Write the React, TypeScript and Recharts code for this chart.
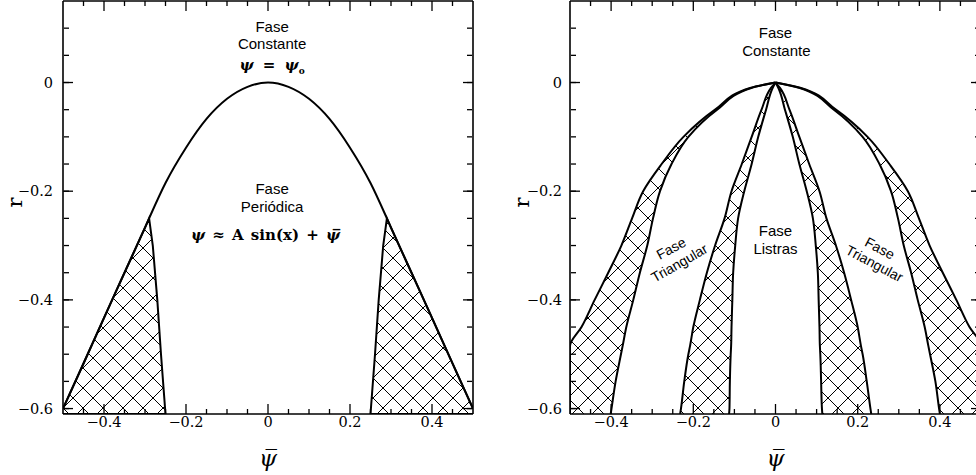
import React from "react"
import { ComposedChart, Area, Line, XAxis, YAxis, ReferenceDot } from "recharts"

const SANS = '"Liberation Sans", Arial, sans-serif'
const SERIF = '"DejaVu Serif", serif'
const INK = "#000"

const R_MIN = -0.61
const R_MAX = 0.15
const PSI_DOMAIN = [-0.5, 0.5]

// tick positions (shared by both panels)
const xMajor = [-0.4, -0.2, 0, 0.2, 0.4]
const xMinor = [-0.45, -0.4, -0.35, -0.3, -0.25, -0.2, -0.15, -0.1, -0.05, 0, 0.05, 0.1, 0.15, 0.2, 0.25, 0.3, 0.35, 0.4, 0.45]
const yMajor = [-0.6, -0.4, -0.2, 0]
const yMinor = [-0.6, -0.55, -0.5, -0.45, -0.4, -0.35, -0.3, -0.25, -0.2, -0.15, -0.1, -0.05, 0, 0.05, 0.1]

// left panel: border of the constant phase, r(psi)
const boundaryX = [-0.5, -0.45, -0.4, -0.35, -0.3, -0.29, -0.25, -0.2, -0.15, -0.1, -0.05, 0, 0.05, 0.1, 0.15, 0.2, 0.25, 0.29, 0.3, 0.35, 0.4, 0.45, 0.5]
const boundaryR = [-0.6, -0.517, -0.433, -0.35, -0.267, -0.25, -0.185, -0.12, -0.067, -0.03, -0.008, 0, -0.008, -0.03, -0.067, -0.12, -0.185, -0.25, -0.267, -0.35, -0.433, -0.517, -0.6]

// left panel: hatched regions, upper edge (lower edge is the frame)
const hatchLeftX = [-0.5, -0.45, -0.4, -0.35, -0.3, -0.29, -0.281, -0.27, -0.261, -0.25]
const hatchLeftTop = [-0.6, -0.517, -0.433, -0.35, -0.267, -0.25, -0.3, -0.4, -0.5, -0.61]
const hatchRightX = [0.25, 0.261, 0.27, 0.281, 0.29, 0.3, 0.35, 0.4, 0.45, 0.5]
const hatchRightTop = [-0.61, -0.5, -0.4, -0.3, -0.25, -0.267, -0.35, -0.433, -0.517, -0.6]

// right panel: band edges as psi(r)
const rGrid = [0, -0.01, -0.05, -0.1, -0.15, -0.2, -0.25, -0.3, -0.35, -0.4, -0.45, -0.485, -0.5, -0.55, -0.6, -0.61]
const outerLeft = [0, -0.062, -0.147, -0.224, -0.277, -0.322, -0.349, -0.375, -0.407, -0.44, -0.472, -0.5, -0.5, -0.5, -0.5, -0.5]
const innerLeft = [0, -0.059, -0.142, -0.212, -0.253, -0.281, -0.298, -0.312, -0.33, -0.346, -0.363, -0.372, -0.376, -0.389, -0.399, -0.401]
const stripeLeftOut = [0, -0.011, -0.034, -0.058, -0.082, -0.107, -0.124, -0.147, -0.167, -0.184, -0.2, -0.208, -0.212, -0.222, -0.23, -0.232]
const stripeLeftIn = [0, -0.007, -0.023, -0.042, -0.058, -0.076, -0.091, -0.098, -0.103, -0.105, -0.107, -0.108, -0.109, -0.111, -0.112, -0.113]
const stripeRightIn = [0, 0.007, 0.023, 0.042, 0.058, 0.076, 0.091, 0.098, 0.103, 0.105, 0.107, 0.108, 0.109, 0.111, 0.113, 0.114]
const stripeRightOut = [0, 0.011, 0.034, 0.058, 0.082, 0.107, 0.124, 0.147, 0.167, 0.184, 0.2, 0.208, 0.212, 0.222, 0.231, 0.233]
const innerRight = [0, 0.059, 0.142, 0.212, 0.253, 0.281, 0.298, 0.312, 0.33, 0.346, 0.363, 0.372, 0.376, 0.389, 0.398, 0.4]
const outerRight = [0, 0.062, 0.147, 0.224, 0.277, 0.322, 0.349, 0.375, 0.407, 0.44, 0.472, 0.5, 0.5, 0.5, 0.5, 0.5]

// annotations
const leftNotes = [
    { text: "Fase", x: 0.01, r: 0.102 },
    { text: "Constante", x: 0.01, r: 0.071 },
    { text: "Fase", x: 0.01, r: -0.196 },
    { text: "Periódica", x: 0.01, r: -0.229 },
]
const rightNotes = [
    { text: "Fase", x: 0, r: 0.091, angle: 0, size: 15 },
    { text: "Constante", x: 0.002, r: 0.058, angle: 0, size: 15 },
    { text: "Fase", x: 0, r: -0.273, angle: 0, size: 15 },
    { text: "Listras", x: 0, r: -0.305, angle: 0, size: 15 },
    { text: "Fase", x: -0.254, r: -0.305, angle: -28, size: 14 },
    { text: "Triangular", x: -0.234, r: -0.332, angle: -30, size: 14 },
    { text: "Fase", x: 0.254, r: -0.305, angle: 28, size: 14 },
    { text: "Triangular", x: 0.241, r: -0.333, angle: 28, size: 14 },
]

function buildLeftRows() {
    const rows = new Map<number, any>()
    const put = (x: number, key: string, v: any) => {
        if (!rows.has(x)) rows.set(x, { x })
        rows.get(x)[key] = v
    }
    boundaryX.forEach((x, i) => put(x, "boundary", boundaryR[i]))
    hatchLeftX.forEach((x, i) => put(x, "hatchL", [R_MIN, hatchLeftTop[i]]))
    hatchRightX.forEach((x, i) => put(x, "hatchR", [R_MIN, hatchRightTop[i]]))
    return [...rows.values()].sort((a, b) => a.x - b.x)
}

const leftRows = buildLeftRows()
const rightRows = rGrid.map((r, i) => ({
    r,
    bandL: [outerLeft[i], innerLeft[i]],
    stripeL: [stripeLeftOut[i], stripeLeftIn[i]],
    stripeR: [stripeRightIn[i], stripeRightOut[i]],
    bandR: [innerRight[i], outerRight[i]],
}))
// rows for the frame overlay of the right panel
const frameRows = xMinor.map((x) => ({ x }))

const fmt = (v: number) => (v === 0 ? "0" : String(v).replace("-", "\u2212"))
const tickLineStyle = { stroke: INK, strokeWidth: 1.3 }
const frame = { stroke: INK, strokeWidth: 1.6 }
const tickText = { fill: INK, fontSize: 14.5, fontFamily: SERIF }
const psiBar = "\u03C8\u0305"
const blankTick = () => <g />

const xLabel = { value: psiBar, position: "insideBottom", offset: 9, fill: INK, fontSize: 23, fontStyle: "italic", fontFamily: SERIF }
const yLabel = (offset: number) => ({ value: "r", angle: -90, position: "insideLeft", offset, fill: INK, fontSize: 21, fontFamily: SERIF })

// frame lines on all four sides + inward r ticks, drawn with mirrored axes (they take no room)
function frameAxes() {
    const xs = { dataKey: "x", type: "number" as const, domain: PSI_DOMAIN, allowDataOverflow: true, interval: 0, tick: blankTick, tickLine: false, mirror: true, height: 1, ticks: xMajor }
    const ys = { type: "number" as const, domain: [R_MIN, R_MAX], allowDataOverflow: true, interval: 0, tick: blankTick, mirror: true, width: 1, tickLine: tickLineStyle }
    return [
        <XAxis key="bM" xAxisId="bM" orientation="bottom" axisLine={frame} {...xs} />,
        <XAxis key="tM" xAxisId="tM" orientation="top" axisLine={frame} {...xs} />,
        <YAxis key="lM" yAxisId="lM" orientation="left" ticks={yMajor} tickSize={10} axisLine={frame} {...ys} />,
        <YAxis key="lm" yAxisId="lm" orientation="left" ticks={yMinor} tickSize={5} axisLine={false} {...ys} />,
        <YAxis key="rM" yAxisId="rM" orientation="right" ticks={yMajor} tickSize={10} axisLine={frame} {...ys} />,
        <YAxis key="rm" yAxisId="rm" orientation="right" ticks={yMinor} tickSize={5} axisLine={false} {...ys} />,
    ]
}

// inward psi tick mark anchored at the point the chart scales give for (psi, edge)
const tickMark = (dir: number, len: number) => (p: any) => (
    <line x1={p.cx} y1={p.cy} x2={p.cx} y2={p.cy + dir * len} stroke={INK} strokeWidth={1.3} />
)

function psiTicks() {
    return xMinor.flatMap((v) => {
        const len = xMajor.includes(v) ? 10 : 5
        return [
            <ReferenceDot key={`b${v}`} xAxisId="b" yAxisId="l" x={v} y={R_MIN} r={0} ifOverflow="visible" shape={tickMark(-1, len)} />,
            <ReferenceDot key={`t${v}`} xAxisId="b" yAxisId="l" x={v} y={R_MAX} r={0} ifOverflow="visible" shape={tickMark(1, len)} />,
        ]
    })
}

function EqConst(props: any) {
    const vb = props.viewBox || {}
    return (
        <text x={vb.x} y={vb.y + 5} textAnchor="middle" fontFamily={SERIF} fontSize={15} fontWeight="bold" fill={INK} style={{ wordSpacing: 4 }}>
            <tspan fontStyle="italic">ψ</tspan> = <tspan fontStyle="italic">ψ</tspan>
            <tspan fontSize={9} dy={4}>o</tspan>
        </text>
    )
}

function EqPeriodic(props: any) {
    const vb = props.viewBox || {}
    return (
        <text x={vb.x} y={vb.y + 5} textAnchor="middle" fontFamily={SERIF} fontSize={15} fontWeight="bold" fill={INK} style={{ wordSpacing: 2 }}>
            <tspan fontStyle="italic">ψ</tspan> ≈ A sin(x) + <tspan fontStyle="italic">{psiBar}</tspan>
        </text>
    )
}

function Hatch({ id, dx, dy }: { id: string; dx: number; dy: number }) {
    return (
        <defs>
            <pattern id={id} patternUnits="userSpaceOnUse" width={20} height={20} patternTransform={`translate(${dx},${dy})`}>
                <path d="M0,0L20,20M20,0L0,20" stroke={INK} strokeWidth={1} />
            </pattern>
        </defs>
    )
}

function LeftPanel() {
    return (
        <ComposedChart width={488} height={475} data={leftRows} margin={{ top: 1, right: 15, bottom: 0, left: 0 }}>
            <Hatch id="hatchA" dx={3} dy={8} />
            <XAxis xAxisId="b" dataKey="x" type="number" domain={PSI_DOMAIN} allowDataOverflow ticks={xMajor} interval={0} tickSize={0} tickMargin={3} tickLine={false} axisLine={false} tick={tickText} tickFormatter={fmt} height={61} label={xLabel} />
            <YAxis yAxisId="l" type="number" domain={[R_MIN, R_MAX]} allowDataOverflow ticks={yMajor} interval={0} tickSize={0} tickMargin={10} tickLine={false} axisLine={false} tick={tickText} tickFormatter={fmt} width={63} label={yLabel(15)} />
            {frameAxes()}

            <Area xAxisId="b" yAxisId="l" dataKey="hatchL" type="linear" fill="url(#hatchA)" fillOpacity={1} stroke={INK} strokeWidth={2} dot={false} activeDot={false} isAnimationActive={false} />
            <Area xAxisId="b" yAxisId="l" dataKey="hatchR" type="linear" fill="url(#hatchA)" fillOpacity={1} stroke={INK} strokeWidth={2} dot={false} activeDot={false} isAnimationActive={false} />
            <Line xAxisId="b" yAxisId="l" dataKey="boundary" type="monotone" stroke={INK} strokeWidth={2} dot={false} activeDot={false} connectNulls isAnimationActive={false} />
            {psiTicks()}

            {leftNotes.map((n, i) => (
                <ReferenceDot key={i} xAxisId="b" yAxisId="l" x={n.x} y={n.r} r={0} stroke="none" fill="none"
                    label={{ value: n.text, position: "center", fill: INK, fontSize: 15, fontFamily: SANS }} />
            ))}
            <ReferenceDot xAxisId="b" yAxisId="l" x={0.01} y={0.032} r={0} stroke="none" fill="none" label={{ content: EqConst }} />
            <ReferenceDot xAxisId="b" yAxisId="l" x={-0.006} y={-0.281} r={0} stroke="none" fill="none" label={{ content: EqPeriodic }} />
        </ComposedChart>
    )
}

const RIGHT_W = 498

function RightPanel() {
    const band = { type: "monotone" as const, fill: "url(#hatchB)", fillOpacity: 1, stroke: INK, strokeWidth: 2, dot: false, activeDot: false, isAnimationActive: false }
    return (
        <ComposedChart layout="vertical" width={RIGHT_W} height={475} data={rightRows} margin={{ top: 1, right: 5, bottom: 0, left: 0 }}>
            <Hatch id="hatchB" dx={10} dy={8} />
            <XAxis xAxisId="b" type="number" domain={PSI_DOMAIN} allowDataOverflow ticks={xMajor} interval={0} tickSize={0} tickMargin={3} tickLine={false} axisLine={false} tick={tickText} tickFormatter={fmt} height={61} label={xLabel} />
            <YAxis yAxisId="l" dataKey="r" type="number" reversed domain={[R_MIN, R_MAX]} allowDataOverflow ticks={yMajor} interval={0} tickSize={0} tickMargin={8} tickLine={false} axisLine={false} tick={tickText} tickFormatter={fmt} width={82} label={yLabel(34)} />

            <Area xAxisId="b" yAxisId="l" dataKey="bandL" {...band} />
            <Area xAxisId="b" yAxisId="l" dataKey="stripeL" {...band} />
            <Area xAxisId="b" yAxisId="l" dataKey="stripeR" {...band} />
            <Area xAxisId="b" yAxisId="l" dataKey="bandR" {...band} />
            {psiTicks()}

            {rightNotes.map((n, i) => (
                <ReferenceDot key={i} xAxisId="b" yAxisId="l" x={n.x} y={n.r} r={0} stroke="none" fill="none"
                    label={{ value: n.text, position: "center", angle: n.angle, fill: INK, fontSize: n.size, fontFamily: SANS }} />
            ))}
        </ComposedChart>
    )
}

// same plot rectangle as RightPanel, horizontal layout, only the frame and the r ticks
function RightFrame() {
    return (
        <ComposedChart width={RIGHT_W} height={475} data={frameRows} margin={{ top: 1, right: 5, bottom: 61, left: 82 }}>
            {frameAxes()}
        </ComposedChart>
    )
}

export default function App() {
    return (
        <div style={{ position: "absolute", left: 0, top: 0, width: 976, height: 475, overflow: "hidden", background: "#fff" }}>
            <div style={{ position: "absolute", left: 0, top: 0 }}>
                <LeftPanel />
            </div>
            <div style={{ position: "absolute", left: 488, top: 0 }}>
                <RightPanel />
            </div>
            <div style={{ position: "absolute", left: 488, top: 0, pointerEvents: "none" }}>
                <RightFrame />
            </div>
        </div>
    )
}
